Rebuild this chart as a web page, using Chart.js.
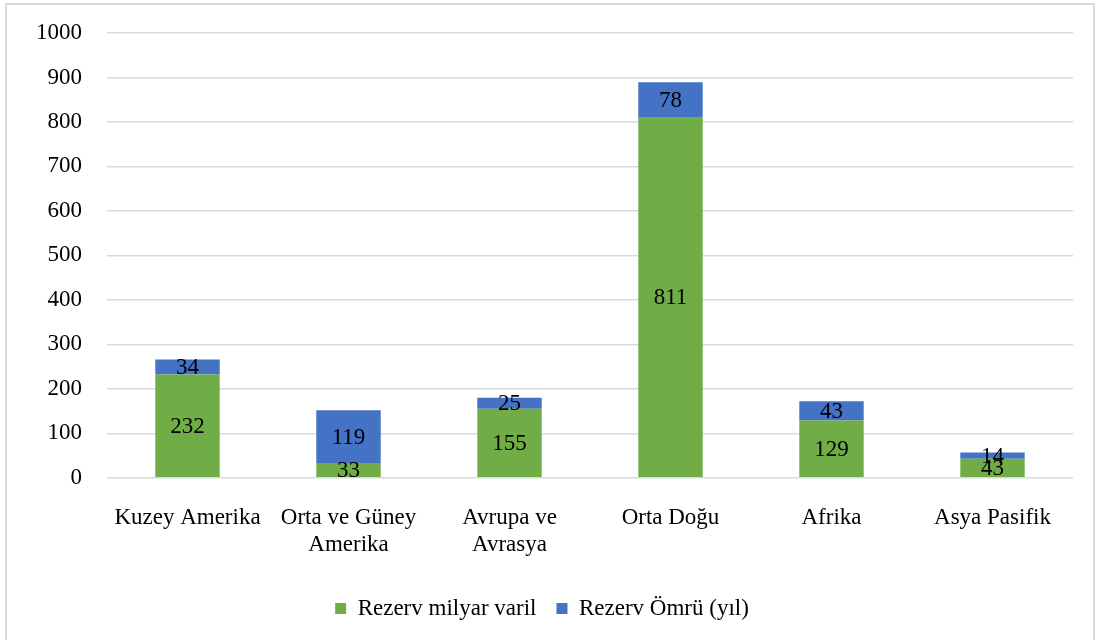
<!DOCTYPE html>
<html>
<head>
<meta charset="utf-8">
<script src="https://cdn.jsdelivr.net/npm/chart.js@4"></script>
<style>
    html, body { margin: 0; padding: 0; background: #fff; }
    #frame {
        position: absolute; left: 5px; top: 3px; width: 1090px; height: 650px;
        border: 2px solid #d9d9d9; box-sizing: border-box;
    }
    #wrap { position: absolute; left: 0; top: 0; width: 1103px; height: 640px; }
</style>
</head>
<body>
<div id="frame"></div>
<div id="wrap"><canvas id="chart"></canvas></div>
<script>
// Data
const regions = [
    'Kuzey Amerika',
    ['Orta ve Güney', 'Amerika'],
    ['Avrupa ve', 'Avrasya'],
    'Orta Doğu',
    'Afrika',
    'Asya Pasifik'
];
const reserveBillionBarrels = [232, 33, 155, 811, 129, 43];
const reserveLifeYears = [34, 119, 25, 78, 43, 14];
const seriesNames = ['Rezerv milyar varil', 'Rezerv Ömrü (yıl)'];
const yTicks = [0, 1000, 100]; // min, max, step

const serif = "'Liberation Serif', 'Times New Roman', serif";

// Value labels centred in each bar segment
const barLabels = {
    id: 'barLabels',
    afterDatasetsDraw(chart) {
        const ctx = chart.ctx;
        ctx.save();
        ctx.font = '23px ' + serif;
        ctx.fillStyle = '#000';
        ctx.textAlign = 'center';
        ctx.textBaseline = 'middle';
        chart.data.datasets.forEach((ds, i) => {
            const meta = chart.getDatasetMeta(i);
            meta.data.forEach((bar, j) => {
                const mid = (bar.y + bar.base) / 2;
                ctx.fillText(ds.data[j], bar.x, mid + 1);
            });
        });
        ctx.restore();
    }
};

Chart.defaults.font.family = serif;
Chart.defaults.color = '#000';

new Chart(document.getElementById('chart').getContext('2d'), {
    type: 'bar',
    data: {
        labels: regions,
        datasets: [{
            label: seriesNames[0],
            data: reserveBillionBarrels,
            backgroundColor: '#70ad47',
            barPercentage: 0.4,
            categoryPercentage: 1
        }, {
            label: seriesNames[1],
            data: reserveLifeYears,
            backgroundColor: '#4472c4',
            barPercentage: 0.4,
            categoryPercentage: 1
        }]
    },
    options: {
        responsive: true,
        maintainAspectRatio: false,
        animation: false,
        layout: { padding: { left: 11, right: 30, top: 0, bottom: 10 } },
        plugins: {
            legend: {
                position: 'bottom',
                labels: {
                    boxWidth: 11,
                    boxHeight: 11,
                    padding: 20,
                    font: { size: 23 }
                }
            },
            tooltip: { enabled: false }
        },
        scales: {
            x: {
                stacked: true,
                grid: { display: false },
                border: { display: false },
                ticks: { font: { size: 23 }, padding: 18, maxRotation: 0 }
            },
            y: {
                stacked: true,
                min: yTicks[0],
                max: yTicks[1],
                ticks: {
                    stepSize: yTicks[2],
                    font: { size: 23 },
                    padding: 25,
                    callback: (v) => String(v)
                },
                grid: { color: '#d9d9d9', lineWidth: 1.5, drawTicks: false },
                border: { display: false },
                // keep the top of the plot close to the frame like the original
                afterFit: (scale) => { scale.paddingTop = 33; }
            }
        }
    },
    plugins: [barLabels]
});
</script>
</body>
</html>
